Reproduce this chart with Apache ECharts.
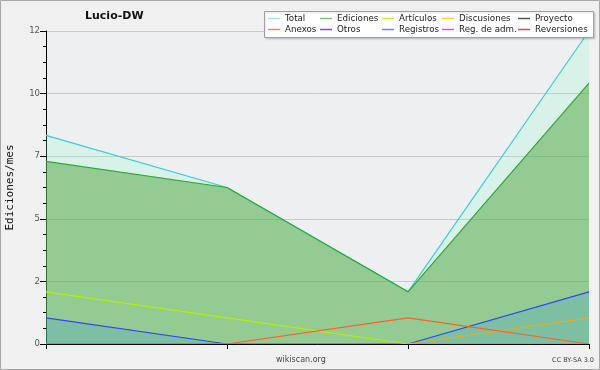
<!DOCTYPE html>
<html>
<head>
<meta charset="utf-8">
<script src="https://cdn.jsdelivr.net/npm/echarts@6/dist/echarts.min.js"></script>
<style>
html,body{margin:0;padding:0;background:#f0f0f0;}
#c{width:600px;height:370px;}
</style>
</head>
<body>
<div id="c"></div>
<script>
const categories = ['1', '2', '3', '4'];
const total = [8, 6, 2, 12];
const ediciones = [7, 6, 2, 10];
const articulos = [2, 1, 0, 0];
const discusiones = [0, 0, 0, 1];
const proyecto = [0, 0, 0, 0];
const anexos = [0, 0, 1, 0];
const otros = [0, 0, 0, 0];
const registros = [1, 0, 0, 2];
const regAdm = [0, 0, 0, 0];
const reversiones = [0, 0, 0, 0];
const yTicks = [0, 2.4, 4.8, 7.2, 9.6, 12];

const legendCols = [
  [['Total', '#9fe3e3'], ['Anexos', '#ff8844']],
  [['Ediciones', '#78c878'], ['Otros', '#8844e8']],
  [['Artículos', '#c8f030'], ['Registros', '#7080ff']],
  [['Discusiones', '#ffcc33'], ['Reg. de adm.', '#e050e8']],
  [['Proyecto', '#555555'], ['Reversiones', '#ff3a3a']]
];
const legendX = [268, 320, 382, 442, 518];

const chart = echarts.init(document.getElementById('c'), null, {renderer: 'canvas'});

function line(name, data, color, area) {
  const s = {
    name: name, type: 'line', data: data, symbol: 'none', smooth: false,
    lineStyle: {color: color, width: 1.2},
    itemStyle: {color: color},
    emphasis: {disabled: true}
  };
  if (area) s.areaStyle = {color: area, opacity: 1};
  return s;
}

const option = {
  backgroundColor: '#f0f0f0',
  animation: false,
  title: {
    text: 'Lucio-DW', left: 85, top: 11, padding: 0,
    textStyle: {fontFamily: 'DejaVu Sans', fontSize: 11, fontWeight: 'bold', color: '#111'}
  },
  graphic: [
    {type: 'rect', z: -1, shape: {x: 0.5, y: 0.5, width: 599, height: 369},
     style: {fill: null, stroke: '#a8a8a8', lineWidth: 1}},
    {type: 'rect', z: 50, shape: {x: 264.5, y: 11.5, width: 329, height: 26},
     style: {fill: '#ffffff', stroke: '#a0a0a0', lineWidth: 1,
       shadowColor: 'rgba(0,0,0,0.15)', shadowBlur: 2, shadowOffsetX: 1, shadowOffsetY: 1}},
    {type: 'text', left: 276, top: 356, z: 50,
     style: {text: 'wikiscan.org', fontFamily: 'DejaVu Sans', fontSize: 8, fill: '#444'}},
    {type: 'text', right: 6, top: 357, z: 50,
     style: {text: 'CC BY-SA 3.0', fontFamily: 'DejaVu Sans', fontSize: 6.5, fill: '#444'}}
  ],
  legend: legendCols.map((col, i) => ({
    orient: 'vertical', left: legendX[i], top: 13, z: 60,
    itemWidth: 12, itemHeight: 1.5, itemGap: 0, padding: 0,
    selectedMode: false,
    textStyle: {fontFamily: 'DejaVu Sans', fontSize: 8.7, color: '#222', lineHeight: 11, height: 11},
    data: col.map(([n, c]) => ({name: n, icon: 'rect',
      itemStyle: {color: c, borderWidth: 0, opacity: 1}, lineStyle: {color: c}}))
  })),
  grid: {left: 46, right: 11, top: 31, bottom: 26, show: true, outerBoundsMode: 'none',
         containLabel: false, backgroundColor: '#eeeff1', borderWidth: 0},
  xAxis: {
    type: 'category', data: categories, boundaryGap: false, z: 5,
    axisLine: {lineStyle: {color: '#000', width: 1}},
    axisTick: {show: true, length: 5, lineStyle: {color: '#000'}},
    axisLabel: {show: false},
    splitLine: {show: false}
  },
  yAxis: {
    type: 'value', min: 0, max: 12, interval: 2.4,
    name: 'Ediciones/mes', nameLocation: 'middle', nameGap: 30,
    nameTextStyle: {fontFamily: 'DejaVu Sans Mono', fontSize: 11, color: '#111'},
    axisLine: {show: true, lineStyle: {color: '#000', width: 1}},
    axisTick: {show: true, length: 6, lineStyle: {color: '#000'}},
    minorTick: {show: true, splitNumber: 4, length: 3, lineStyle: {color: '#000'}},
    axisLabel: {fontFamily: 'DejaVu Sans', fontSize: 8.5, color: '#555', margin: 6,
      formatter: v => String(Math.round(v))},
    splitLine: {show: true, lineStyle: {color: '#c8c8c8', width: 1}}
  },
  series: [
    line('Total', total, '#36d0d0', 'rgba(128,254,206,0.2)'),
    line('Ediciones', ediciones, '#2fa82f', 'rgba(78,164,60,0.5)'),
    line('Proyecto', proyecto, '#666666'),
    line('Otros', otros, '#9040e0'),
    line('Reg. de adm.', regAdm, '#e050e8'),
    line('Reversiones', reversiones, '#ff3a3a'),
    line('Registros', registros, '#3344ff', 'rgba(0,128,255,0.15)'),
    line('Discusiones', discusiones, '#e2b020'),
    line('Artículos', articulos, '#b4f000'),
    line('Anexos', anexos, '#ff6020')
  ]
};
chart.setOption(option);
</script>
</body>
</html>
